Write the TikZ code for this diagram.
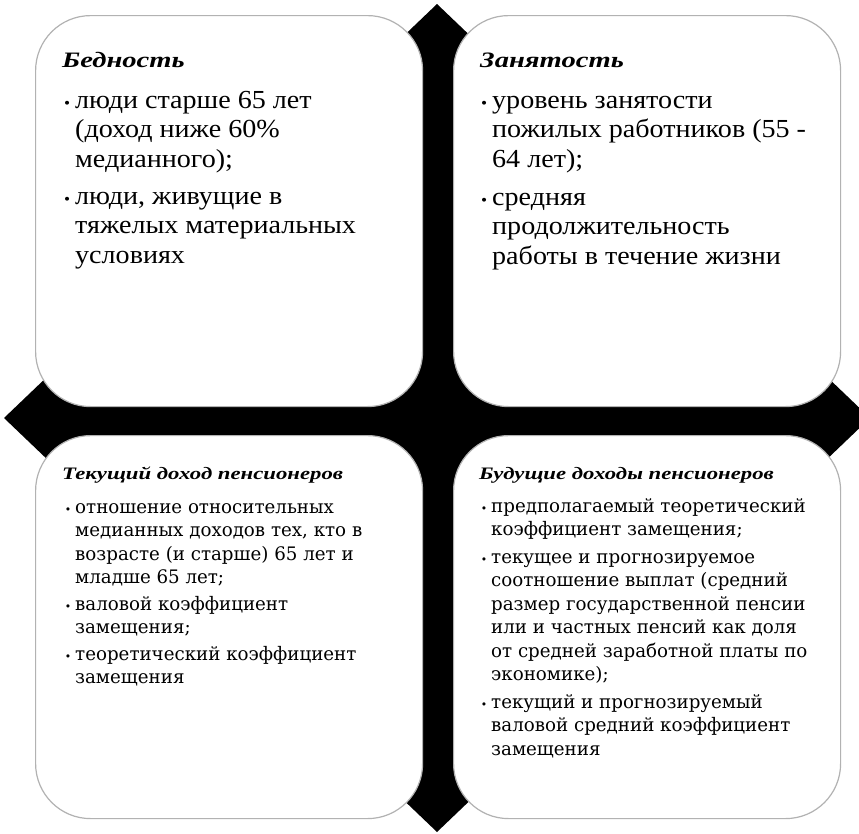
\documentclass[tikz,border=0pt]{standalone}
\usepackage{fontspec}
\setmainfont{Liberation Serif}
\newfontfamily\topfont[FakeStretch=1.08]{Liberation Serif}
\newfontfamily\botfont[FakeStretch=0.98]{DejaVu Serif}
\newfontfamily\ttlfont[FakeStretch=1.3]{Liberation Serif}
\newcommand\tbul{\leavevmode\llap{{\fontsize{16}{16}\selectfont\char"2022}\hspace{5pt}}}
\newcommand\bbul{\leavevmode\llap{{\fontsize{11}{11}\selectfont\char"2022}\hspace{4pt}}}
\begin{document}
\begin{tikzpicture}[x=1pt,y=-1pt,
  card/.style={draw=black!30, fill=white, line width=1.2pt, rounded corners=55pt,
    inner sep=0pt, anchor=north west, minimum width=387pt},
  toptitle/.style={anchor=base west, inner sep=0pt, font=\ttlfont\bfseries\itshape\fontsize{22}{26}\selectfont},
  bottitle/.style={anchor=base west, inner sep=0pt, font=\ttlfont\bfseries\itshape\fontsize{17.5}{21}\selectfont},
  topitem/.style={anchor=base west, inner sep=0pt},
  botitem/.style={anchor=base west, inner sep=0pt}]
\useasboundingbox (0,0) rectangle (859,833);
\begin{scope}
  \clip (0,0) rectangle (859,833);
  \fill[black] (437,4) -- (4,418) -- (437,832) -- (870,418) -- cycle;
\end{scope}
% boxes
\node[card, minimum height=391pt] (pov) at (35,15) {};
\node[card, minimum height=391pt] (emp) at (453,15) {};
\node[card, minimum height=383pt] (cur) at (35,435) {};
\node[card, minimum height=383pt] (fut) at (453,435) {};
% top-left
\node[toptitle] (povT) at (62,67) {Бедность};
\node[topitem] (pov1) at (75,108) {\parbox[t]{340pt}{\topfont\fontsize{26}{29.6}\selectfont\raggedright
  \tbul люди старше 65 лет\\(доход ниже 60\%\\медианного);}};
\node[topitem] (pov2) at (75,204) {\parbox[t]{340pt}{\topfont\fontsize{26}{29.6}\selectfont\raggedright
  \tbul люди, живущие в\\тяжелых материальных\\условиях}};
% top-right
\node[toptitle] (empT) at (480,67) {Занятость};
\node[topitem] (emp1) at (492,108) {\parbox[t]{340pt}{\topfont\fontsize{26}{29.6}\selectfont\raggedright
  \tbul уровень занятости\\пожилых работников (55 -\\64 лет);}};
\node[topitem] (emp2) at (492,205) {\parbox[t]{340pt}{\topfont\fontsize{26}{29.6}\selectfont\raggedright
  \tbul средняя\\продолжительность\\работы в течение жизни}};
% bottom-left
\node[bottitle] (curT) at (62,479) {Текущий доход пенсионеров};
\node[botitem] (cur1) at (75,513) {\parbox[t]{340pt}{\botfont\fontsize{18.6}{23.5}\selectfont\raggedright
  \bbul отношение относительных\\медианных доходов тех, кто в\\возрасте (и старше) 65 лет и\\младше 65 лет;}};
\node[botitem] (cur2) at (75,610) {\parbox[t]{340pt}{\botfont\fontsize{18.6}{23.5}\selectfont\raggedright
  \bbul валовой коэффициент\\замещения;}};
\node[botitem] (cur3) at (75,660) {\parbox[t]{340pt}{\botfont\fontsize{18.6}{23.5}\selectfont\raggedright
  \bbul теоретический коэффициент\\замещения}};
% bottom-right
\node[bottitle] (futT) at (479,479) {Будущие доходы пенсионеров};
\node[botitem] (fut1) at (491,512) {\parbox[t]{340pt}{\botfont\fontsize{18.6}{23.5}\selectfont\raggedright
  \bbul предполагаемый теоретический\\коэффициент замещения;}};
\node[botitem] (fut2) at (491,563) {\parbox[t]{340pt}{\botfont\fontsize{18.6}{23.5}\selectfont\raggedright
  \bbul текущее и прогнозируемое\\соотношение выплат (средний\\размер государственной пенсии\\или и частных пенсий как доля\\от средней заработной платы по\\экономике);}};
\node[botitem] (fut3) at (491,708) {\parbox[t]{340pt}{\botfont\fontsize{18.6}{23.5}\selectfont\raggedright
  \bbul текущий и прогнозируемый\\валовой средний коэффициент\\замещения}};
\end{tikzpicture}
\end{document}
